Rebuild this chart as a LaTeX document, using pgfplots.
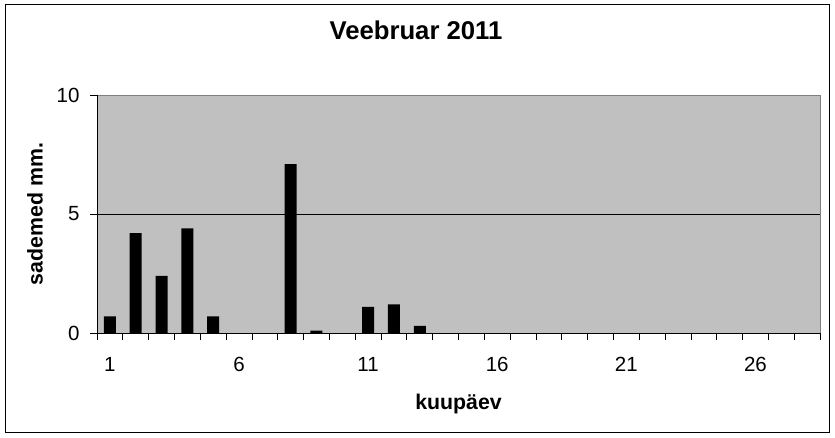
\documentclass[border=0pt]{standalone}
\usepackage{fontspec}
\setmainfont{Liberation Sans}
\usepackage{pgfplots}
\pgfplotsset{compat=1.18}
\definecolor{plotgray}{HTML}{C0C0C0}
\definecolor{bordergray}{HTML}{808080}
\begin{document}
\begin{tikzpicture}[x=1pt,y=1pt]
\useasboundingbox (0,0) rectangle (835,437);
\draw[black, line width=1pt] (5,5) rectangle (829,432);
\begin{axis}[
  at={(97pt,104pt)}, anchor=south west,
  scale only axis, width=723pt, height=238pt,
  xmin=0.5, xmax=28.5, ymin=0, ymax=10,
  ybar, bar width=12pt, bar shift=0pt,
  axis background/.style={fill=plotgray, draw=bordergray, line width=0.8pt},
  axis x line*=bottom, axis y line*=left,
  axis line style={-, black, line width=1pt},
  tick align=outside, major tick length=7pt,
  tick style={black, line width=0.8pt},
  xtick={0.5,1.5,...,28.5}, xticklabels={},
  extra x ticks={1,6,11,16,21,26},
  extra x tick labels={1,6,11,16,21,26},
  extra x tick style={tick style={draw=none}},
  ytick={0,10}, extra y ticks={5},
  extra y tick style={ymajorgrids=true, major grid style={black, line width=0.9pt}},
  /pgf/number format/assume math mode=true,
  tick label style={font=\fontsize{20.5}{24}\selectfont},
  xticklabel style={yshift=-14pt},
  yticklabel style={xshift=-7pt},
  title={Veebruar 2011},
  title style={at={(axis description cs:0.4412,1.2059)}, anchor=base, font=\bfseries\fontsize{25.7}{30}\selectfont},
  xlabel={kuupäev},
  xlabel style={at={(axis description cs:0.5,-0.3235)}, anchor=base, font=\bfseries\fontsize{21.3}{25}\selectfont},
  ylabel={sademed mm.},
  ylabel style={at={(axis description cs:-0.0858,0.5)}, anchor=center, font=\bfseries\fontsize{21.3}{25}\selectfont},
]
\addplot[fill=black, draw=none] coordinates {
(1,0.7) (2,4.2) (3,2.4) (4,4.4) (5,0.7) (6,0) (7,0) (8,7.1) (9,0.1) (10,0)
(11,1.1) (12,1.2) (13,0.3) (14,0) (15,0) (16,0) (17,0) (18,0) (19,0) (20,0)
(21,0) (22,0) (23,0) (24,0) (25,0) (26,0) (27,0) (28,0)
};
\end{axis}
\end{tikzpicture}
\end{document}
